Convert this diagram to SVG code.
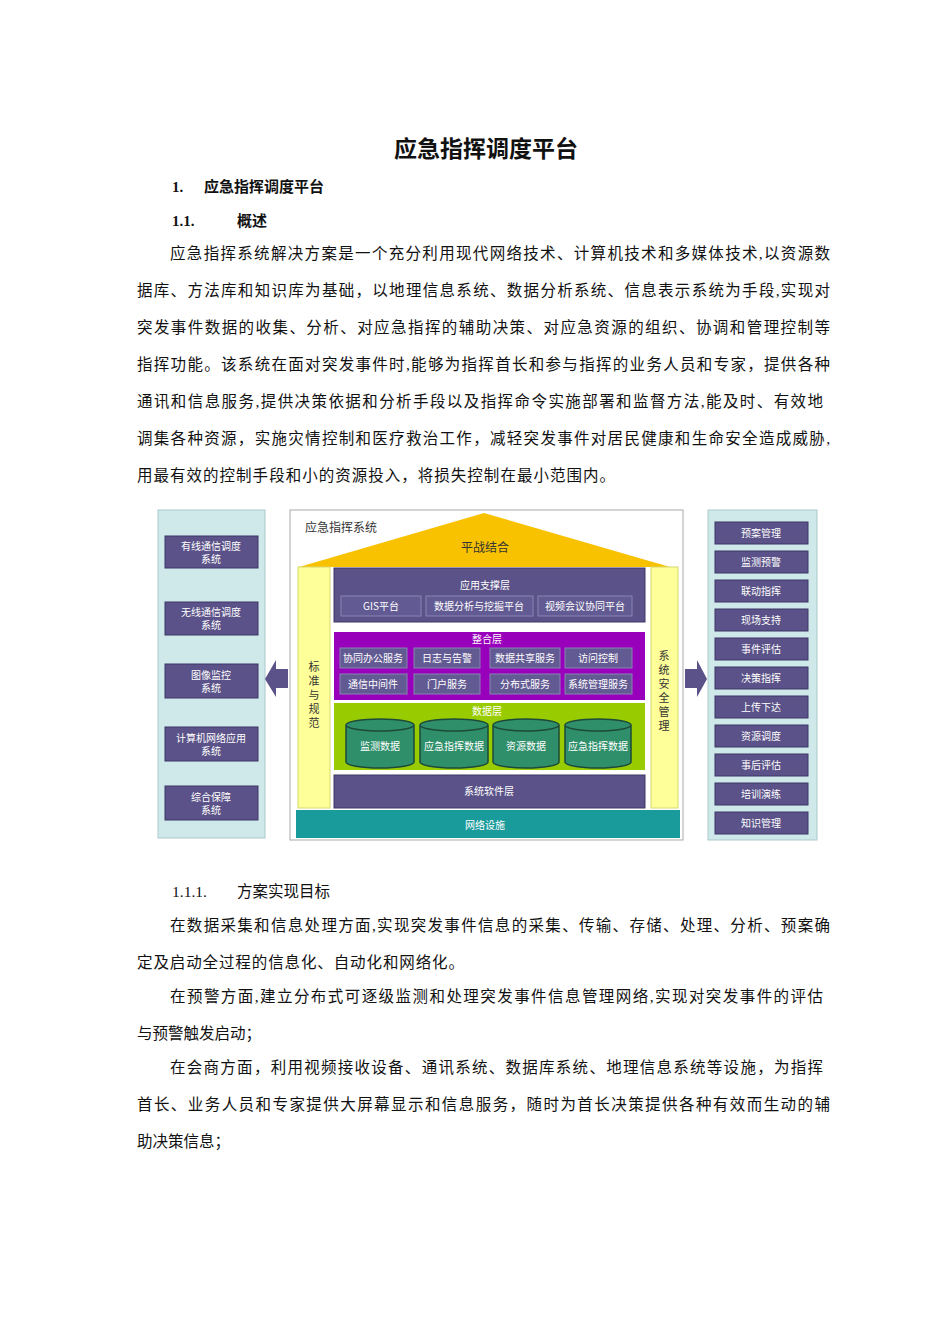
<svg xmlns="http://www.w3.org/2000/svg" width="950" height="1344" viewBox="0 0 950 1344">
<style>
text{font-family:"Liberation Serif","Noto Sans CJK SC",serif;fill:#111}
.b{font-size:15.5px}
.d{font-family:"Noto Sans CJK SC",sans-serif;fill:#fff;font-size:10px;text-anchor:middle}
.box{fill:#5a5288;stroke:#3d3766;stroke-width:1}
.sub{fill:#625a92;stroke:#8a84b4;stroke-width:1}
.cyl{fill:#2f8f6a;stroke:#1d4a3a;stroke-width:1.5}
</style>
<rect width="950" height="1344" fill="#fff"/>
<text x="486" y="157" font-size="23" font-weight="bold" text-anchor="middle" style="font-family:'Noto Sans CJK SC',sans-serif">应急指挥调度平台</text>
<text x="172" y="192" font-size="15" font-weight="bold">1.</text>
<text x="204" y="192" font-size="15" font-weight="bold">应急指挥调度平台</text>
<text x="172" y="226" font-size="15" font-weight="bold">1.1.</text>
<text x="237" y="226" font-size="15" font-weight="bold">概述</text>
<g class="b">
<text x="170" y="259" textLength="660" lengthAdjust="spacing">应急指挥系统解决方案是一个充分利用现代网络技术、计算机技术和多媒体技术,以资源数</text>
<text x="137" y="296" textLength="693" lengthAdjust="spacing">据库、方法库和知识库为基础，以地理信息系统、数据分析系统、信息表示系统为手段,实现对</text>
<text x="137" y="333" textLength="693" lengthAdjust="spacing">突发事件数据的收集、分析、对应急指挥的辅助决策、对应急资源的组织、协调和管理控制等</text>
<text x="137" y="370" textLength="693" lengthAdjust="spacing">指挥功能。该系统在面对突发事件时,能够为指挥首长和参与指挥的业务人员和专家，提供各种</text>
<text x="137" y="407" textLength="686" lengthAdjust="spacing">通讯和信息服务,提供决策依据和分析手段以及指挥命令实施部署和监督方法,能及时、有效地</text>
<text x="137" y="444" textLength="693" lengthAdjust="spacing">调集各种资源，实施灾情控制和医疗救治工作，减轻突发事件对居民健康和生命安全造成威胁,</text>
<text x="137" y="481" textLength="478" lengthAdjust="spacing">用最有效的控制手段和小的资源投入，将损失控制在最小范围内。</text>
<text x="172" y="897">1.1.1.</text>
<text x="237" y="897">方案实现目标</text>
<text x="170" y="931" textLength="660" lengthAdjust="spacing">在数据采集和信息处理方面,实现突发事件信息的采集、传输、存储、处理、分析、预案确</text>
<text x="137" y="968" textLength="327" lengthAdjust="spacing">定及启动全过程的信息化、自动化和网络化。</text>
<text x="170" y="1002" textLength="653" lengthAdjust="spacing">在预警方面,建立分布式可逐级监测和处理突发事件信息管理网络,实现对突发事件的评估</text>
<text x="137" y="1039">与预警触发启动；</text>
<text x="170" y="1073" textLength="653" lengthAdjust="spacing">在会商方面，利用视频接收设备、通讯系统、数据库系统、地理信息系统等设施，为指挥</text>
<text x="137" y="1110" textLength="693" lengthAdjust="spacing">首长、业务人员和专家提供大屏幕显示和信息服务，随时为首长决策提供各种有效而生动的辅</text>
<text x="137" y="1147">助决策信息；</text>
</g>

<g id="left-panel">
<rect x="158" y="510" width="107" height="328" fill="#cfe8ea" stroke="#a9c9cc"/>
<g id="l1"><rect class="box" x="165" y="536" width="93" height="32"/><text class="d" x="211" y="550">有线通信调度</text><text class="d" x="211" y="563">系统</text></g>
<g id="l2"><rect class="box" x="165" y="602" width="93" height="33"/><text class="d" x="211" y="616">无线通信调度</text><text class="d" x="211" y="629">系统</text></g>
<g id="l3"><rect class="box" x="165" y="664" width="93" height="34"/><text class="d" x="211" y="679">图像监控</text><text class="d" x="211" y="692">系统</text></g>
<g id="l4"><rect class="box" x="165" y="727" width="93" height="34"/><text class="d" x="211" y="742">计算机网络应用</text><text class="d" x="211" y="755">系统</text></g>
<g id="l5"><rect class="box" x="165" y="786" width="93" height="34"/><text class="d" x="211" y="801">综合保障</text><text class="d" x="211" y="814">系统</text></g>
</g>

<g id="main">
<rect x="290" y="510" width="393" height="330" fill="#fff" stroke="#aaa"/>
<polygon points="299,567 484,513 670,567" fill="#f8c200"/>
<text x="305" y="532" style="font-family:'Noto Sans CJK SC',sans-serif;font-size:12px;fill:#333">应急指挥系统</text>
<text x="485" y="552" style="font-family:'Noto Sans CJK SC',sans-serif;font-size:12px;fill:#333" text-anchor="middle">平战结合</text>
<rect x="298" y="567" width="32" height="241" fill="#ffff99" stroke="#d8d870"/>
<text style="font-family:'Noto Sans CJK SC',sans-serif;font-size:11px;fill:#333" text-anchor="middle"><tspan x="314" y="671">标</tspan><tspan x="314" y="685">准</tspan><tspan x="314" y="699">与</tspan><tspan x="314" y="713">规</tspan><tspan x="314" y="727">范</tspan></text>
<rect x="651" y="567" width="27" height="241" fill="#ffff99" stroke="#d8d870"/>
<text style="font-family:'Noto Sans CJK SC',sans-serif;font-size:11px;fill:#333" text-anchor="middle"><tspan x="664" y="660">系</tspan><tspan x="664" y="674">统</tspan><tspan x="664" y="688">安</tspan><tspan x="664" y="702">全</tspan><tspan x="664" y="716">管</tspan><tspan x="664" y="730">理</tspan></text>
<g id="app"><rect class="box" x="334" y="568" width="311" height="54"/><text class="d" x="485" y="589">应用支撑层</text>
<rect class="sub" x="341" y="596" width="80" height="20"/><text class="d" x="381" y="610">GIS平台</text>
<rect class="sub" x="426" y="596" width="107" height="20"/><text class="d" x="479" y="610">数据分析与挖掘平台</text>
<rect class="sub" x="538" y="596" width="94" height="20"/><text class="d" x="585" y="610">视频会议协同平台</text></g>
<g id="integ"><rect x="334" y="632" width="311" height="68" fill="#9900bb"/><text class="d" x="487" y="643">整合层</text>
<rect class="sub" x="340" y="648" width="67" height="20"/><text class="d" x="373" y="662">协同办公服务</text>
<rect class="sub" x="414" y="648" width="66" height="20"/><text class="d" x="447" y="662">日志与告警</text>
<rect class="sub" x="490" y="648" width="70" height="20"/><text class="d" x="525" y="662">数据共享服务</text>
<rect class="sub" x="565" y="648" width="67" height="20"/><text class="d" x="598" y="662">访问控制</text>
<rect class="sub" x="340" y="674" width="67" height="20"/><text class="d" x="373" y="688">通信中间件</text>
<rect class="sub" x="414" y="674" width="66" height="20"/><text class="d" x="447" y="688">门户服务</text>
<rect class="sub" x="490" y="674" width="70" height="20"/><text class="d" x="525" y="688">分布式服务</text>
<rect class="sub" x="565" y="674" width="67" height="20"/><text class="d" x="598" y="688">系统管理服务</text></g>
<g id="data"><rect x="334" y="703" width="311" height="67" fill="#99cc00"/><text class="d" x="487" y="715">数据层</text>
<path class="cyl" d="M346,725 v37 a34,6 0 0 0 68,0 v-37 a34,6 0 0 0 -68,0 a34,6 0 0 0 68,0"/><text class="d" x="380" y="750">监测数据</text>
<path class="cyl" d="M420,725 v37 a34,6 0 0 0 68,0 v-37 a34,6 0 0 0 -68,0 a34,6 0 0 0 68,0"/><text class="d" x="454" y="750">应急指挥数据</text>
<path class="cyl" d="M493,725 v37 a33,6 0 0 0 66,0 v-37 a33,6 0 0 0 -66,0 a33,6 0 0 0 66,0"/><text class="d" x="526" y="750">资源数据</text>
<path class="cyl" d="M565,725 v37 a33,6 0 0 0 66,0 v-37 a33,6 0 0 0 -66,0 a33,6 0 0 0 66,0"/><text class="d" x="598" y="750">应急指挥数据</text></g>
<g id="sys"><rect class="box" x="334" y="775" width="311" height="33"/><text class="d" x="489" y="795">系统软件层</text></g>
<g id="net"><rect x="296" y="810" width="384" height="28" fill="#1a9b9b"/><text class="d" x="485" y="829">网络设施</text></g>
</g>

<g id="connectors">
<polygon points="288,669 276,669 276,660 265,679 276,697 276,688 288,688" fill="#5a5288"/>
<polygon points="685,669 697,669 697,660 707,679 697,697 697,688 685,688" fill="#5a5288"/>
</g>

<g id="right-panel">
<rect x="708" y="510" width="109" height="330" fill="#cfe8ea" stroke="#a9c9cc"/>
<g id="r1"><rect class="box" x="715" y="522" width="93" height="22"/><text class="d" x="761" y="537">预案管理</text></g>
<g id="r2"><rect class="box" x="715" y="551" width="93" height="22"/><text class="d" x="761" y="566">监测预警</text></g>
<g id="r3"><rect class="box" x="715" y="580" width="93" height="22"/><text class="d" x="761" y="595">联动指挥</text></g>
<g id="r4"><rect class="box" x="715" y="609" width="93" height="22"/><text class="d" x="761" y="624">现场支持</text></g>
<g id="r5"><rect class="box" x="715" y="638" width="93" height="22"/><text class="d" x="761" y="653">事件评估</text></g>
<g id="r6"><rect class="box" x="715" y="667" width="93" height="22"/><text class="d" x="761" y="682">决策指挥</text></g>
<g id="r7"><rect class="box" x="715" y="696" width="93" height="22"/><text class="d" x="761" y="711">上传下达</text></g>
<g id="r8"><rect class="box" x="715" y="725" width="93" height="22"/><text class="d" x="761" y="740">资源调度</text></g>
<g id="r9"><rect class="box" x="715" y="754" width="93" height="22"/><text class="d" x="761" y="769">事后评估</text></g>
<g id="r10"><rect class="box" x="715" y="783" width="93" height="22"/><text class="d" x="761" y="798">培训演练</text></g>
<g id="r11"><rect class="box" x="715" y="812" width="93" height="22"/><text class="d" x="761" y="827">知识管理</text></g>
</g>
</svg>
